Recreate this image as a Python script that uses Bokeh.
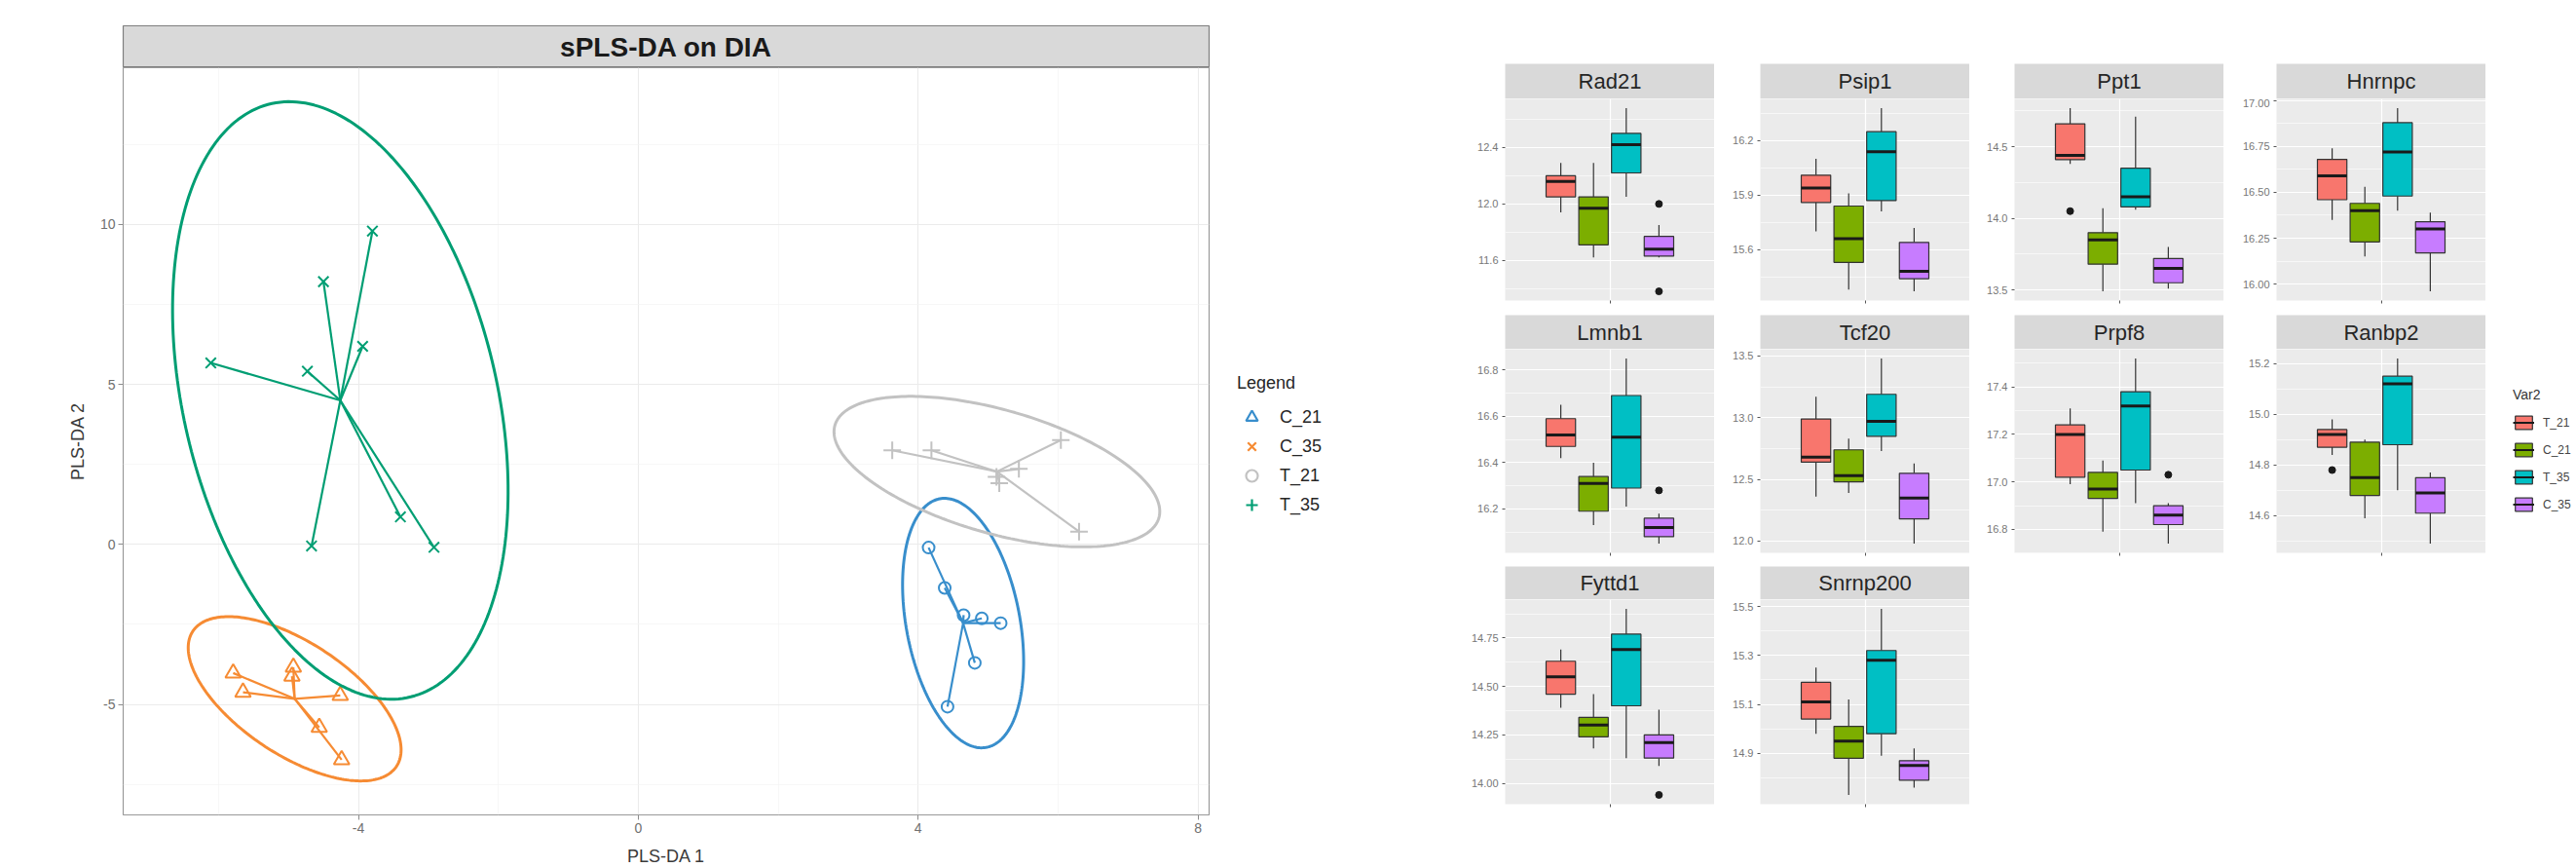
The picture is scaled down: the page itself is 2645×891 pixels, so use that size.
import numpy as np
from bokeh.plotting import figure
from bokeh.layouts import row, column
from bokeh.models import (Range1d, FixedTicker, PrintfTickFormatter,
                          CustomJSTickFormatter, Legend, LegendItem)
from bokeh.core.properties import value
from bokeh.embed import file_html
from bokeh.resources import INLINE

FONT = "Liberation Sans"

# ---------------- left panel data (sPLS-DA scores) ----------------
plot_title = "sPLS-DA on DIA"
x_label = "PLS-DA 1"
y_label = "PLS-DA 2"
x_ticks = [-4, 0, 4, 8]
y_ticks = [-5, 0, 5, 10]

c21_x = [4.15, 4.38, 4.65, 4.91, 5.18, 4.81, 4.42]
c21_y = [-0.10, -1.36, -2.21, -2.31, -2.46, -3.70, -5.07]
c35_x = [-5.79, -5.65, -4.93, -4.95, -4.26, -4.56, -4.24]
c35_y = [-4.02, -4.62, -3.84, -4.12, -4.72, -5.72, -6.73]
t21_x = [3.63, 4.19, 6.04, 5.44, 5.12, 5.16, 6.30]
t21_y = [2.94, 2.94, 3.26, 2.36, 2.11, 1.91, 0.40]
t35_x = [-6.11, -4.73, -4.50, -3.80, -3.94, -4.67, -3.40, -2.92]
t35_y = [5.67, 5.41, 8.21, 9.79, 6.19, -0.05, 0.86, -0.09]

legend_title = "Legend"
legend_labels = ["C_21", "C_35", "T_21", "T_35"]

# ---------------- right panel data (boxplots) ----------------
genes = ["Rad21", "Psip1", "Ppt1", "Hnrnpc", "Lmnb1",
         "Tcf20", "Prpf8", "Ranbp2", "Fyttd1", "Snrnp200"]
box_groups = ["T_21", "C_21", "T_35", "C_35"]
box_legend_title = "Var2"

whisker_lo = [
    [11.94, 11.62, 12.05, 11.62],
    [15.70, 15.38, 15.81, 15.37],
    [14.38, 13.49, 14.06, 13.51],
    [16.35, 16.15, 16.40, 15.96],
    [16.42, 16.13, 16.21, 16.05],
    [12.36, 12.39, 12.73, 11.98],
    [16.99, 16.79, 16.91, 16.74],
    [14.84, 14.59, 14.70, 14.49],
    [14.39, 14.18, 14.13, 14.09],
    [14.98, 14.73, 14.89, 14.76],
]
q1 = [
    [12.05, 11.71, 12.22, 11.63],
    [15.86, 15.53, 15.87, 15.44],
    [14.41, 13.68, 14.08, 13.55],
    [16.46, 16.23, 16.48, 16.17],
    [16.47, 16.19, 16.29, 16.08],
    [12.64, 12.48, 12.85, 12.18],
    [17.02, 16.93, 17.05, 16.82],
    [14.87, 14.68, 14.88, 14.61],
    [14.46, 14.24, 14.40, 14.13],
    [15.04, 14.88, 14.98, 14.79],
]
median = [
    [12.16, 11.97, 12.42, 11.68],
    [15.94, 15.66, 16.14, 15.48],
    [14.44, 13.85, 14.15, 13.65],
    [16.59, 16.40, 16.72, 16.30],
    [16.52, 16.31, 16.51, 16.12],
    [12.68, 12.53, 12.97, 12.35],
    [17.20, 16.97, 17.32, 16.86],
    [14.92, 14.75, 15.12, 14.69],
    [14.55, 14.30, 14.69, 14.21],
    [15.11, 14.95, 15.28, 14.85],
]
q3 = [
    [12.20, 12.05, 12.50, 11.77],
    [16.01, 15.84, 16.25, 15.64],
    [14.66, 13.90, 14.35, 13.72],
    [16.68, 16.44, 16.88, 16.34],
    [16.59, 16.34, 16.69, 16.16],
    [12.99, 12.74, 13.19, 12.55],
    [17.24, 17.04, 17.38, 16.90],
    [14.94, 14.89, 15.15, 14.75],
    [14.63, 14.34, 14.77, 14.25],
    [15.19, 15.01, 15.32, 14.87],
]
whisker_hi = [
    [12.29, 12.29, 12.68, 11.85],
    [16.10, 15.91, 16.38, 15.72],
    [14.77, 14.07, 14.71, 13.80],
    [16.74, 16.53, 16.96, 16.39],
    [16.65, 16.40, 16.85, 16.18],
    [13.17, 12.83, 13.48, 12.63],
    [17.31, 17.09, 17.52, 16.91],
    [14.98, 14.90, 15.22, 14.77],
    [14.69, 14.46, 14.90, 14.38],
    [15.25, 15.12, 15.49, 14.92],
]
outlier_gene = ["Rad21", "Rad21", "Ppt1", "Lmnb1", "Prpf8", "Ranbp2", "Fyttd1"]
outlier_group = ["C_35", "C_35", "T_21", "C_35", "C_35", "T_21", "C_35"]
outlier_value = [12.00, 11.38, 14.05, 16.28, 17.03, 14.78, 13.94]

y_tick_labels = [
    ["11.6", "12.0", "12.4"],
    ["15.6", "15.9", "16.2"],
    ["13.5", "14.0", "14.5"],
    ["16.00", "16.25", "16.50", "16.75", "17.00"],
    ["16.2", "16.4", "16.6", "16.8"],
    ["12.0", "12.5", "13.0", "13.5"],
    ["16.8", "17.0", "17.2", "17.4"],
    ["14.6", "14.8", "15.0", "15.2"],
    ["14.00", "14.25", "14.50", "14.75"],
    ["14.9", "15.1", "15.3", "15.5"],
]

# ---------------- styles ----------------
PLS_STYLE = {
    "C_21": dict(color="#388ECC", marker="circle", size=12),
    "C_35": dict(color="#F68B33", marker="triangle", size=16),
    "T_21": dict(color="#C2C2C2", marker="cross", size=18),
    "T_35": dict(color="#009E73", marker="x", size=15),
}
LEGEND_MARKERS = {"C_21": "triangle", "C_35": "x", "T_21": "circle", "T_35": "cross"}
BOX_COLORS = {"T_21": "#F8766D", "C_21": "#7CAE00", "T_35": "#00BFC4", "C_35": "#C77CFF"}
OFF = [-100.0]  # off-canvas position for legend-only renderers


def fig(w, h, xr, yr, l, r, t, b, axes=True):
    kw = dict(width=w, height=h, x_range=xr, y_range=yr,
              min_border_left=l, min_border_right=r,
              min_border_top=t, min_border_bottom=b,
              toolbar_location=None, output_backend="svg")
    if not axes:
        kw.update(x_axis_type=None, y_axis_type=None)
    f = figure(**kw)
    f.outline_line_color = None
    if not axes:
        f.xgrid.visible = False
        f.ygrid.visible = False
    return f


def minor_of(ticks):
    step = ticks[1] - ticks[0]
    return [t - step / 2 for t in ticks] + [ticks[-1] + step / 2]


def conf_ellipse(xs, ys, level=0.95, n=240):
    x = np.asarray(xs, float)
    y = np.asarray(ys, float)
    t = np.sqrt(-2.0 * np.log(1.0 - level))
    sx, sy = x.std(ddof=1), y.std(ddof=1)
    r = np.corrcoef(x, y)[0, 1]
    d = np.arccos(r)
    a = np.linspace(0, 2 * np.pi, n)
    return x.mean() + t * sx * np.cos(a + d / 2), y.mean() + t * sy * np.cos(a - d / 2)


# ================= left: sPLS-DA =================
pls_groups = [("C_21", c21_x, c21_y), ("C_35", c35_x, c35_y),
              ("T_21", t21_x, t21_y), ("T_35", t35_x, t35_y)]
ellipses = {g: conf_ellipse(xs, ys) for g, xs, ys in pls_groups}
allx = np.concatenate([ellipses[g][0] for g, _, _ in pls_groups] + [np.array(xs) for _, xs, _ in pls_groups])
ally = np.concatenate([ellipses[g][1] for g, _, _ in pls_groups] + [np.array(ys) for _, _, ys in pls_groups])
dx = 0.05 * (allx.max() - allx.min())
dy = 0.05 * (ally.max() - ally.min())
lx = Range1d(allx.min() - dx, allx.max() + dx)
ly = Range1d(ally.min() - dy, ally.max() + dy)

LW = 1250
strip = fig(LW, 69, Range1d(0, 1), Range1d(0, 1), 126, 9, 26, 0, axes=False)
strip.background_fill_color = "#D9D9D9"
strip.outline_line_color = "#7F7F7F"
strip.outline_line_width = 1.2
strip.text(x=[0.5], y=[0.5], text=[plot_title], text_align="center",
           text_baseline="middle", text_font=value(FONT),
           text_font_size=value("28px"), text_font_style="bold", text_color="#1A1A1A")

p = fig(LW, 822, lx, ly, 126, 9, 0, 50)
p.outline_line_color = "#9A9A9A"
p.outline_line_width = 1.2
p.xaxis.ticker = FixedTicker(ticks=x_ticks, minor_ticks=minor_of(x_ticks))
p.yaxis.ticker = FixedTicker(ticks=y_ticks, minor_ticks=minor_of(y_ticks))
p.axis.formatter = PrintfTickFormatter(format="%d")
p.xaxis.axis_label = x_label
p.yaxis.axis_label = y_label
for ax in (p.xaxis, p.yaxis):
    ax.axis_line_color = None
    ax.major_tick_line_color = "#8C8C8C"
    ax.major_tick_out = 5
    ax.major_tick_in = 0
    ax.minor_tick_line_color = None
    ax.major_label_text_font = FONT
    ax.major_label_text_font_size = "14px"
    ax.major_label_text_color = "#707070"
    ax.major_label_standoff = 3
    ax.axis_label_text_font = FONT
    ax.axis_label_text_font_size = "18px"
    ax.axis_label_text_font_style = "normal"
    ax.axis_label_text_color = "#3A3A3A"
p.xaxis.axis_label_standoff = 11
p.yaxis.axis_label_standoff = 10
p.grid.grid_line_color = "#EBEBEB"
p.grid.grid_line_width = 1.1
p.grid.minor_grid_line_color = "#F4F4F4"
p.grid.minor_grid_line_width = 0.7

for g, xs, ys in pls_groups:
    st = PLS_STYLE[g]
    ex, ey = ellipses[g]
    p.line(ex, ey, line_color=st["color"], line_width=3)
    cx, cy = float(np.mean(xs)), float(np.mean(ys))
    p.segment(x0=[cx] * len(xs), y0=[cy] * len(ys), x1=xs, y1=ys,
              line_color=st["color"], line_width=2.2)
    p.scatter(xs, ys, marker=st["marker"], size=st["size"], line_color=st["color"],
              fill_color=None, line_width=2)

# left legend (separate figure)
lg = fig(210, 891, Range1d(0, 1), Range1d(0, 1), 20, 0, 383, 0, axes=False)
items = []
for lab in legend_labels:
    r = lg.scatter(x=OFF, y=OFF, marker=LEGEND_MARKERS[lab], size=15,
                   line_color=PLS_STYLE[lab]["color"], fill_color=None, line_width=2.2)
    items.append(LegendItem(label=lab, renderers=[r]))
leg = Legend(items=items, location="top_left", margin=0, padding=10,
             title=legend_title, title_text_font=FONT, title_text_font_size="18px",
             title_text_font_style="normal", title_text_color="#262626",
             title_standoff=9,
             label_text_font=FONT, label_text_font_size="18px", label_text_color="#262626",
             glyph_width=30, glyph_height=30, label_height=30, spacing=0,
             label_standoff=14, border_line_color=None, background_fill_alpha=0)
lg.add_layout(leg)

left_col = column(strip, p)

# ================= right: faceted boxplots =================
row_specs = [(101, 65, 222, 15), (35, 0, 223, 14), (34, 0, 268, 58)]
col_specs = [(300, 85), (262, 47), (261, 46), (269, 54)]
ncol = 4
ng = len(box_groups)
dodge = 0.75
offs = (np.arange(ng) - (ng - 1) / 2) * dodge / ng
bw = dodge / ng * 0.9
xs_box = list(1 + offs)
fills = [BOX_COLORS[g] for g in box_groups]

rows = []
current = []
for gi, gene in enumerate(genes):
    ri, ci = divmod(gi, ncol)
    sh, st_top, ph, pb = row_specs[ri]
    fw, lb = col_specs[ci]

    s = fig(fw, sh, Range1d(0, 1), Range1d(0, 1), lb, 0, st_top, 0, axes=False)
    s.background_fill_color = "#D9D9D9"
    s.text(x=[0.5], y=[0.5], text=[gene], text_align="center", text_baseline="middle",
           text_font=value(FONT), text_font_size=value("22px"), text_color="#262626")

    ox = [xs_box[box_groups.index(g)] for gg, g in zip(outlier_gene, outlier_group) if gg == gene]
    oy = [v for gg, v in zip(outlier_gene, outlier_value) if gg == gene]
    vals = whisker_lo[gi] + whisker_hi[gi] + oy
    pad = 0.05 * (max(vals) - min(vals))
    pf = fig(fw, ph, Range1d(0.4, 1.6), Range1d(min(vals) - pad, max(vals) + pad), lb, 0, 0, pb)
    pf.background_fill_color = "#EBEBEB"

    tv = [float(t) for t in y_tick_labels[gi]]
    dec = len(y_tick_labels[gi][0].split(".")[1])
    pf.yaxis.ticker = FixedTicker(ticks=tv, minor_ticks=minor_of(tv))
    pf.yaxis.formatter = PrintfTickFormatter(format="%." + str(dec) + "f")
    pf.xaxis.ticker = FixedTicker(ticks=[1])
    pf.xaxis.formatter = CustomJSTickFormatter(code="return ''")
    for ax in (pf.xaxis, pf.yaxis):
        ax.axis_line_color = None
        ax.major_tick_line_color = "#555555"
        ax.major_tick_out = 3
        ax.major_tick_in = 0
        ax.minor_tick_line_color = None
        ax.major_label_text_font = FONT
        ax.major_label_text_color = "#777777"
    pf.yaxis.major_label_text_font_size = "11px"
    pf.yaxis.major_label_standoff = 3
    pf.xaxis.major_label_text_font_size = "8px"
    pf.xaxis.major_label_standoff = 0
    pf.grid.grid_line_color = "white"
    pf.grid.grid_line_width = 1.2
    pf.ygrid.minor_grid_line_color = "white"
    pf.ygrid.minor_grid_line_width = 0.6

    pf.segment(x0=xs_box, x1=xs_box, y0=q3[gi], y1=whisker_hi[gi], line_color="#333333", line_width=1.2)
    pf.segment(x0=xs_box, x1=xs_box, y0=whisker_lo[gi], y1=q1[gi], line_color="#333333", line_width=1.2)
    pf.vbar(x=xs_box, width=bw, bottom=q1[gi], top=q3[gi], fill_color=fills,
            line_color="#333333", line_width=1.2)
    pf.segment(x0=[x - bw / 2 for x in xs_box], x1=[x + bw / 2 for x in xs_box],
               y0=median[gi], y1=median[gi], line_color="#1A1A1A", line_width=3)
    if oy:
        pf.scatter(ox, oy, size=7, color="#1A1A1A")

    current.append(column(s, pf))
    if ci == ncol - 1 or gi == len(genes) - 1:
        rows.append(row(*current))
        current = []

right_block = column(*rows)

# Var2 legend figure
vf = fig(93, 891, Range1d(0, 1), Range1d(0, 1), 28, 0, 397, 0, axes=False)
vitems = []
for g in box_groups:
    rb = vf.vbar(x=OFF, bottom=OFF, top=[-99.0], width=0.5, fill_color=BOX_COLORS[g],
                 line_color="#333333", line_width=1.2)
    rm = vf.segment(x0=OFF, y0=OFF, x1=[-99.0], y1=OFF, line_color="#1A1A1A", line_width=2)
    vitems.append(LegendItem(label=g, renderers=[rb, rm]))
vleg = Legend(items=vitems, location="top_left", margin=0, padding=10,
              title=box_legend_title, title_text_font=FONT, title_text_font_size="14px",
              title_text_font_style="normal", title_text_color="#333333", title_standoff=12,
              label_text_font=FONT, label_text_font_size="12px", label_text_color="#444444",
              glyph_width=22, glyph_height=17, label_height=17, spacing=11,
              label_standoff=9, border_line_color=None, background_fill_alpha=0)
vf.add_layout(vleg)

layout = row(left_col, column(lg), right_block, column(vf))

open("out.html", "w").write(file_html(layout, INLINE))
